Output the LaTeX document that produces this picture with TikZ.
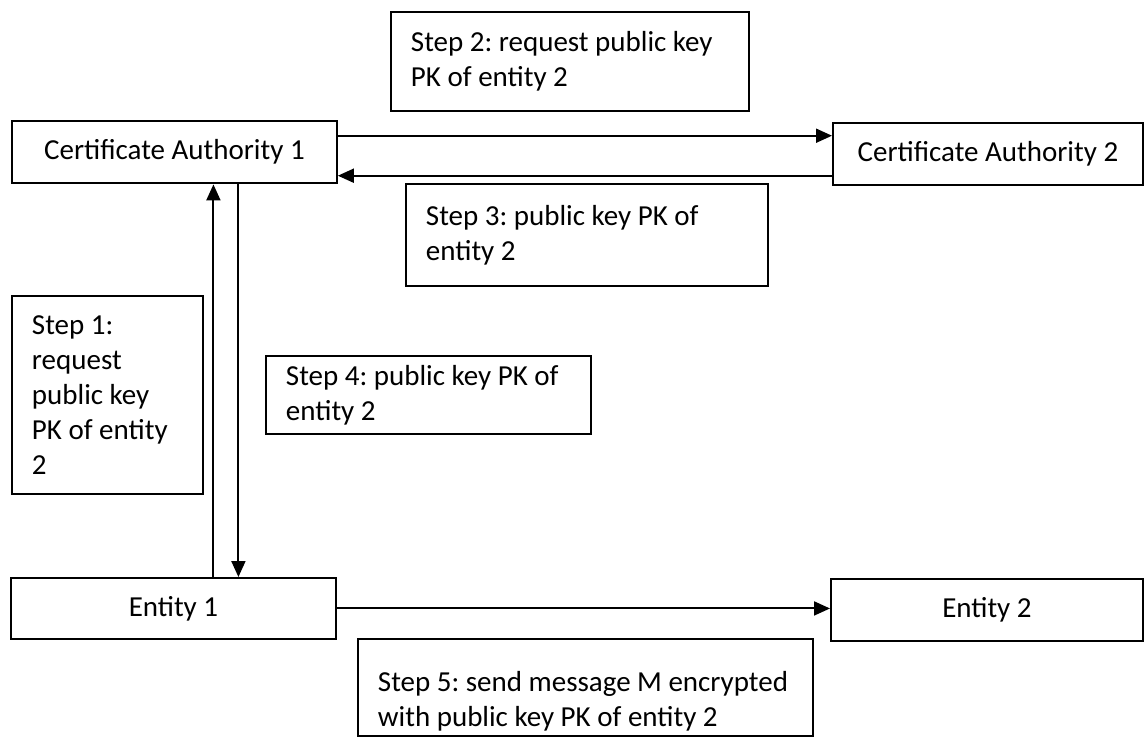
\documentclass[tikz,border=0pt]{standalone}
\usepackage{fontspec}
\setmainfont{Carlito}
\usetikzlibrary{arrows.meta}

\begin{document}
\begin{tikzpicture}[x=0.02cm,y=-0.02cm,>={Triangle[length=0.32cm,width=0.28cm]},
    line width=1.1pt,font=\fontsize{16.5}{20}\selectfont\frenchspacing,
    party/.style={draw,anchor=north west,minimum height=1.25cm,inner sep=0pt},
    stepbox/.style={draw,anchor=north west,align=flush left,inner xsep=0.4cm,inner ysep=0pt}]
  \useasboundingbox (0,0) rectangle (1144,737);
  % parties
  \node[party,minimum width=6.5cm] (ca1) at (11,120) {Certificate Authority 1};
  \node[party,minimum width=6.2cm] (ca2) at (832,122) {Certificate Authority 2};
  \node[party,minimum width=6.5cm,minimum height=1.22cm] (ent1) at (10,577) {Entity 1};
  \node[party,minimum width=6.24cm] (ent2) at (830,578) {Entity 2};
  % step labels
  \node[stepbox,text width=6.36cm,minimum height=1.98cm] (s2) at (390,11) {Step 2: request public key\\PK of entity 2};
  \node[stepbox,text width=6.44cm,minimum height=2.04cm] (s3) at (405,183) {Step 3: public key PK of\\entity 2};
  \node[stepbox,text width=3.02cm,minimum height=3.96cm] (s1) at (11,295) {Step 1:\\request\\public key\\PK of entity\\2};
  \node[stepbox,text width=5.7cm,minimum height=1.56cm] (s4) at (265,355) {Step 4: public key PK of\\entity 2};
  \node[stepbox,text width=8.3cm,minimum height=1.94cm] (s5) at (357,638) {\rule{0pt}{0.95cm}Step 5: send message M encrypted\\with public key PK of entity 2};
  % arrows
  \draw[->] ([yshift=0.33cm]ca1.east) -- ([yshift=0.33cm]ca1.east -| ca2.west);
  \draw[<-] ([yshift=-0.47cm]ca1.east) -- ([yshift=-0.47cm]ca1.east -| ca2.west);
  \draw[->] ([xshift=0.8cm]ent1.north) -- ([xshift=0.8cm]ent1.north |- ca1.south);
  \draw[<-] ([xshift=1.3cm]ent1.north) -- ([xshift=1.3cm]ent1.north |- ca1.south);
  \draw[->] (ent1.east) -- (ent1.east -| ent2.west);
\end{tikzpicture}
\end{document}
